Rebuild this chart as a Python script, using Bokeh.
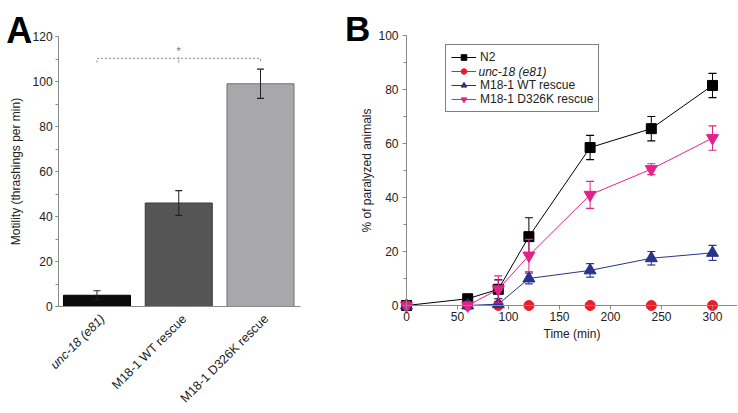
import numpy as np
from bokeh.plotting import figure
from bokeh.layouts import row
from bokeh.models import (Range1d, Label, SingleIntervalTicker, FixedTicker,
                          Legend, LegendItem, ColumnDataSource)
from bokeh.embed import file_html
from bokeh.resources import INLINE

FONT = "Liberation Sans"

# ---------------- Panel A data ----------------
a_labels = ["unc-18 (e81)", "M18-1 WT rescue", "M18-1 D326K rescue"]
a_pos = [1, 2, 3]
a_values = [5, 46, 99]
a_errors = [2, 5.5, 6.5]
a_fill = ["#0b0b0b", "#555555", "#a8a8ab"]
a_line = ["#000000", "#3a3a3a", "#707070"]
a_style = ["italic", "normal", "normal"]
a_yticks_interval = 20
sig_y = 110.3
sig_drop = 1.8
sig_star_y = 111.0

# ---------------- Panel B data ----------------
b_time = [0, 60, 90, 120, 180, 240, 300]
n2 = [0, 2.5, 6, 25.5, 58.5, 65.5, 81.5]
n2_err = [0, 1, 3.5, 7, 4.5, 4.5, 4.5]
unc18 = [0, 0, 0, 0, 0, 0, 0]
unc18_err = [0, 0, 0, 0, 0, 0, 0]
wt = [0, 0, 0.5, 10, 13, 17.5, 19.5]
wt_err = [0, 0, 1, 2, 2.5, 2.5, 2.8]
d326k = [0, 0, 6, 18.5, 41, 50.5, 62]
d326k_err = [0, 0, 5, 6, 5, 2, 4.5]

series = [
    ("N2", n2, n2_err, "#000000", "square", 10),
    ("unc-18 (e81)", unc18, unc18_err, "#e5202a", "circle", 10),
    ("M18-1 WT rescue", wt, wt_err, "#28338c", "triangle", 12),
    ("M18-1 D326K rescue", d326k, d326k_err, "#e4218b", "inverted_triangle", 12),
]

AXIS_GREY = "#8a8a8a"
TEXT = "#222222"
H = 412


def style_axes(p):
    for ax in (p.xaxis, p.yaxis):
        ax.axis_line_color = AXIS_GREY
        ax.major_tick_line_color = AXIS_GREY
        ax.minor_tick_line_color = AXIS_GREY
        ax.major_tick_in = 0
        ax.major_tick_out = 4
        ax.minor_tick_in = 0
        ax.minor_tick_out = 3
        ax.major_label_text_font = FONT
        ax.major_label_text_font_size = "12px"
        ax.major_label_text_color = TEXT
        ax.axis_label_text_font = FONT
        ax.axis_label_text_font_size = "12px"
        ax.axis_label_text_font_style = "normal"
        ax.axis_label_text_color = TEXT
    p.xgrid.grid_line_color = None
    p.ygrid.grid_line_color = None
    p.outline_line_color = None


# ================= Panel A =================
WA = 338
a_xs, a_xe = -0.1804, 3.9541
pa = figure(width=WA, height=H, title=None,
            x_range=Range1d(a_xs, a_xe), y_range=Range1d(-47.11, 136),
            output_backend="svg", toolbar_location=None,
            min_border_left=0, min_border_right=0, min_border_top=0, min_border_bottom=0)
style_axes(pa)
pa.yaxis.fixed_location = 0.53
pa.xaxis.fixed_location = 0
pa.yaxis.bounds = (0, 120)
pa.xaxis.bounds = (0.53, 3.49)
pa.yaxis.ticker = SingleIntervalTicker(interval=a_yticks_interval, num_minor_ticks=2)
pa.yaxis.major_label_standoff = 3
pa.yaxis.major_tick_out = 3
pa.yaxis.axis_label = "Motility (thrashings per min)"
pa.yaxis.axis_label_standoff = 6
pa.xaxis.ticker = FixedTicker(ticks=[])

src_a = ColumnDataSource(dict(x=a_pos, top=a_values, fill=a_fill, line=a_line,
                              lo=[v - e for v, e in zip(a_values, a_errors)],
                              hi=[v + e for v, e in zip(a_values, a_errors)]))
pa.vbar(x="x", top="top", bottom=0, width=0.82, fill_color="fill", line_color="line",
        line_width=1, source=src_a)
pa.segment(x0="x", x1="x", y0="lo", y1="hi", line_color="#222222", line_width=1, source=src_a)
pa.scatter(x="x", y="hi", marker="dash", size=7, line_color="#222222", line_width=1.2, source=src_a)
pa.scatter(x="x", y="lo", marker="dash", size=7, line_color="#222222", line_width=1.2, source=src_a)

# significance bracket
pa.line(x=[a_pos[0], a_pos[0], a_pos[2], a_pos[2]],
        y=[sig_y - sig_drop, sig_y, sig_y, sig_y - sig_drop],
        line_color="#888888", line_dash="2 2", line_width=1)
pa.line(x=[a_pos[1], a_pos[1]], y=[sig_y - sig_drop, sig_y + 0.8],
        line_color="#888888", line_dash="2 1", line_width=1)
pa.add_layout(Label(x=a_pos[1], y=sig_star_y, text="*", text_font=FONT,
                    text_font_size="11px", text_color="#777777",
                    text_align="center", text_baseline="bottom"))

# rotated category labels
for xpos, lab, st in zip(a_pos, a_labels, a_style):
    pa.add_layout(Label(x=xpos + 0.07, y=-4.6, text=lab, angle=np.pi / 4,
                        text_font=FONT, text_font_size="12.5px", text_font_style=st,
                        text_color=TEXT, text_align="right", text_baseline="middle"))

pa.add_layout(Label(x=0.05, y=122.7, text="A", text_font=FONT, text_font_size="36px",
                    text_font_style="bold", text_color="#000000",
                    text_align="center", text_baseline="alphabetic"))

# ================= Panel B =================
WB = 399
pb = figure(width=WB, height=H, title=None,
            x_range=Range1d(-66.667, 324.51), y_range=Range1d(-39.63, 112.963),
            output_backend="svg", toolbar_location=None,
            min_border_left=0, min_border_right=0, min_border_top=0, min_border_bottom=0)
style_axes(pb)
pb.yaxis.fixed_location = 0
pb.xaxis.fixed_location = 0
pb.yaxis.bounds = (0, 100)
pb.xaxis.bounds = (0, 335)
pb.yaxis.ticker = SingleIntervalTicker(interval=20, num_minor_ticks=2)
pb.xaxis.ticker = SingleIntervalTicker(interval=50, num_minor_ticks=0)
pb.yaxis.axis_label = "% of paralyzed animals"
pb.yaxis.axis_label_standoff = 1
pb.yaxis.major_label_standoff = 4
pb.xaxis.axis_label = "Time (min)"
pb.xaxis.axis_label_standoff = 2
pb.xaxis.major_label_standoff = 3

items = []
for name, ys, errs, col, marker, size in series:
    lo = [y - e for y, e in zip(ys, errs)]
    hi = [y + e for y, e in zip(ys, errs)]
    src = ColumnDataSource(dict(x=b_time, y=ys, lo=lo, hi=hi))
    pb.segment(x0="x", x1="x", y0="lo", y1="hi", line_color=col, line_width=1, source=src)
    pb.scatter(x="x", y="hi", marker="dash", size=8, line_color=col, line_width=1.2, source=src)
    pb.scatter(x="x", y="lo", marker="dash", size=8, line_color=col, line_width=1.2, source=src)
    ln = pb.line(x="x", y="y", line_color=col, line_width=1, source=src)
    mk = pb.scatter(x="x", y="y", marker=marker, size=size, fill_color=col, line_color=col,
                    source=src)
    # italic label drawn separately for the mutant
    items.append(LegendItem(label=("" if name == "unc-18 (e81)" else name), renderers=[ln, mk]))

legend = Legend(items=items, location=(107, 300), border_line_color="#000000",
                border_line_width=1, background_fill_color="#ffffff", background_fill_alpha=0,
                label_text_font=FONT, label_text_font_size="12px", label_text_color=TEXT,
                glyph_width=25, glyph_height=14, label_height=12, label_standoff=4,
                spacing=0, padding=5, margin=0)
pb.add_layout(legend)
pb.add_layout(Label(x=70.6, y=86.3, text=series[1][0], text_font=FONT,
                    text_font_size="12px", text_font_style="italic", text_color=TEXT,
                    text_align="left", text_baseline="middle"))

pb.add_layout(Label(x=-48.0, y=102.6, text="B", text_font=FONT, text_font_size="35px",
                    text_font_style="bold", text_color="#000000",
                    text_align="center", text_baseline="alphabetic"))

layout = row(pa, pb)
open("out.html", "w").write(file_html(layout, INLINE))
